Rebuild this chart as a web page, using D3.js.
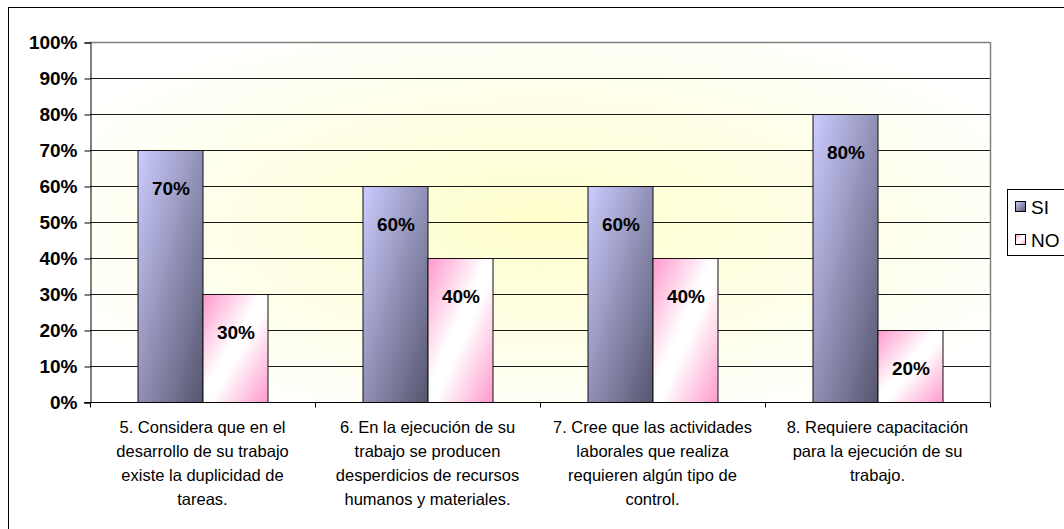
<!DOCTYPE html>
<html>
<head>
<meta charset="utf-8">
<script src="https://cdn.jsdelivr.net/npm/d3@7/dist/d3.min.js"></script>
<style>
  html, body { margin: 0; padding: 0; background: #fff; }
  svg { display: block; }
</style>
</head>
<body>
<svg id="chart" width="1064" height="529"></svg>
<script>
// ---- data ----
const categories = [
  "5. Considera que en el desarrollo de su trabajo existe la duplicidad de tareas.",
  "6. En la ejecución de su trabajo se producen desperdicios de recursos humanos y materiales.",
  "7. Cree que las actividades laborales que realiza requieren algún tipo de control.",
  "8. Requiere capacitación para la ejecución de su trabajo."
];
const categoryLines = [
  ["5. Considera que en el", "desarrollo de su trabajo", "existe la duplicidad de", "tareas."],
  ["6. En la ejecución de su", "trabajo se producen", "desperdicios de recursos", "humanos y materiales."],
  ["7. Cree que las actividades", "laborales que realiza", "requieren algún tipo de", "control."],
  ["8. Requiere capacitación", "para la ejecución de su", "trabajo."]
];
const seriesNames = ["SI", "NO"];
const siValues = [0.70, 0.60, 0.60, 0.80];
const noValues = [0.30, 0.40, 0.40, 0.20];
const yTicks = [0, 0.1, 0.2, 0.3, 0.4, 0.5, 0.6, 0.7, 0.8, 0.9, 1.0];

// ---- layout ----
const svg = d3.select("#chart");
const plot = { left: 90, right: 990, top: 42, bottom: 402 };

const defs = svg.append("defs");
const bg = defs.append("radialGradient").attr("id", "bgGrad")
  .attr("cx", "0.5").attr("cy", "0.5").attr("r", "0.6");
bg.append("stop").attr("offset", "0").attr("stop-color", "#ffffcc");
bg.append("stop").attr("offset", "1").attr("stop-color", "#ffffff");

const gSi = defs.append("linearGradient").attr("id", "siGrad")
  .attr("x1", "0").attr("y1", "0").attr("x2", "1").attr("y2", "1");
gSi.append("stop").attr("offset", "0").attr("stop-color", "#ccccff");
gSi.append("stop").attr("offset", "1").attr("stop-color", "#55556e");

const gNo = defs.append("linearGradient").attr("id", "noGrad")
  .attr("x1", "0").attr("y1", "0").attr("x2", "1").attr("y2", "1");
gNo.append("stop").attr("offset", "0").attr("stop-color", "#ff99cc");
gNo.append("stop").attr("offset", "0.45").attr("stop-color", "#ffffff");
gNo.append("stop").attr("offset", "0.55").attr("stop-color", "#ffffff");
gNo.append("stop").attr("offset", "1").attr("stop-color", "#ff99cc");

// outer border
svg.append("rect").attr("x", 8.5).attr("y", 7.5).attr("width", 1070).attr("height", 540)
  .attr("fill", "#fff").attr("stroke", "#000").attr("stroke-width", 1);

// scales
const x0 = d3.scaleBand().domain(d3.range(categories.length))
  .range([plot.left, plot.right]).paddingInner(0.4222).paddingOuter(0.2111);
const x1 = d3.scaleBand().domain(seriesNames).range([0, x0.bandwidth()]);
const y = d3.scaleLinear().domain([0, 1]).range([plot.bottom, plot.top]);

// plot background
svg.append("rect").attr("x", plot.left).attr("y", plot.top)
  .attr("width", plot.right - plot.left).attr("height", plot.bottom - plot.top)
  .attr("fill", "url(#bgGrad)");

// gridlines
svg.append("g").selectAll("line").data(yTicks.slice(1)).join("line")
  .attr("x1", plot.left).attr("x2", plot.right)
  .attr("y1", d => Math.round(y(d)) + 0.5).attr("y2", d => Math.round(y(d)) + 0.5)
  .attr("stroke", "#1a1a1a").attr("stroke-width", 1);

// plot borders
svg.append("line").attr("x1", plot.right + 0.5).attr("x2", plot.right + 0.5)
  .attr("y1", plot.top).attr("y2", plot.bottom)
  .attr("stroke", "#808080").attr("stroke-width", 1.5);
svg.append("line").attr("x1", plot.left).attr("x2", plot.right)
  .attr("y1", plot.top + 0.5).attr("y2", plot.top + 0.5)
  .attr("stroke", "#808080").attr("stroke-width", 1.5);

// bars
const rows = categories.map((c, i) => ({ i, vals: [
  { s: "SI", v: siValues[i] }, { s: "NO", v: noValues[i] } ] }));
const groups = svg.append("g").selectAll("g").data(rows).join("g")
  .attr("transform", d => `translate(${x0(d.i)},0)`);
groups.selectAll("rect").data(d => d.vals).join("rect")
  .attr("x", d => x1(d.s) + 0.5)
  .attr("y", d => Math.round(y(d.v)) + 0.5)
  .attr("width", x1.bandwidth())
  .attr("height", d => Math.round(y(0)) - Math.round(y(d.v)))
  .attr("fill", d => d.s === "SI" ? "url(#siGrad)" : "url(#noGrad)")
  .attr("stroke", "#111").attr("stroke-width", 1);
groups.selectAll("text").data(d => d.vals).join("text")
  .attr("x", d => x1(d.s) + x1.bandwidth() / 2 + 1)
  .attr("y", d => y(d.v) + 38)
  .attr("dy", "0.35em")
  .attr("text-anchor", "middle")
  .attr("font-family", "Liberation Sans, Arial, sans-serif")
  .attr("font-weight", "bold").attr("font-size", 19)
  .attr("fill", "#000")
  .text(d => Math.round(d.v * 100) + "%");

// y axis
const yAxis = d3.axisLeft(y).tickValues(yTicks).tickSize(6).tickPadding(7)
  .tickFormat(d => Math.round(d * 100) + "%");
const ya = svg.append("g").attr("transform", `translate(${plot.left + 0.5},0.5)`).call(yAxis);
ya.select(".domain").attr("stroke", "#000");
ya.selectAll(".tick line").attr("stroke", "#000");
ya.selectAll("text").attr("font-family", "Liberation Sans, Arial, sans-serif")
  .attr("font-weight", "bold").attr("font-size", 19).attr("fill", "#000");

// x axis
const xa = svg.append("g").attr("transform", `translate(0,${plot.bottom + 0.5})`);
xa.append("line").attr("x1", plot.left - 6).attr("x2", plot.right)
  .attr("stroke", "#000");
const boundaries = d3.range(categories.length + 1).map(i => plot.left + i * x0.step());
xa.selectAll("line.tk").data(boundaries).join("line").attr("class", "tk")
  .attr("x1", d => Math.round(d) + 0.5).attr("x2", d => Math.round(d) + 0.5)
  .attr("y1", 0).attr("y2", 5).attr("stroke", "#000");

const labels = svg.append("g");
categoryLines.forEach((lines, i) => {
  const cx = x0(i) + x0.bandwidth() / 2;
  lines.forEach((ln, j) => {
    labels.append("text").attr("x", cx).attr("y", 427 + j * 24).attr("dy", "0.35em")
      .attr("text-anchor", "middle")
      .attr("font-family", "Liberation Sans, Arial, sans-serif")
      .attr("font-size", 16.5).attr("fill", "#000").text(ln);
  });
});

// legend
const lg = svg.append("g");
lg.append("rect").attr("x", 1007.5).attr("y", 189.5).attr("width", 80).attr("height", 66)
  .attr("fill", "#fff").attr("stroke", "#000").attr("stroke-width", 1);
seriesNames.forEach((s, i) => {
  const cy = 207 + i * 33;
  lg.append("rect").attr("x", 1015.5).attr("y", cy - 5.5).attr("width", 10).attr("height", 10)
    .attr("fill", s === "SI" ? "url(#siGrad)" : "url(#noGrad)").attr("stroke", "#000");
  lg.append("text").attr("x", 1031).attr("y", cy).attr("dy", "0.35em")
    .attr("font-family", "Liberation Sans, Arial, sans-serif")
    .attr("font-size", 19).attr("fill", "#000").text(s);
});
</script>
</body>
</html>
